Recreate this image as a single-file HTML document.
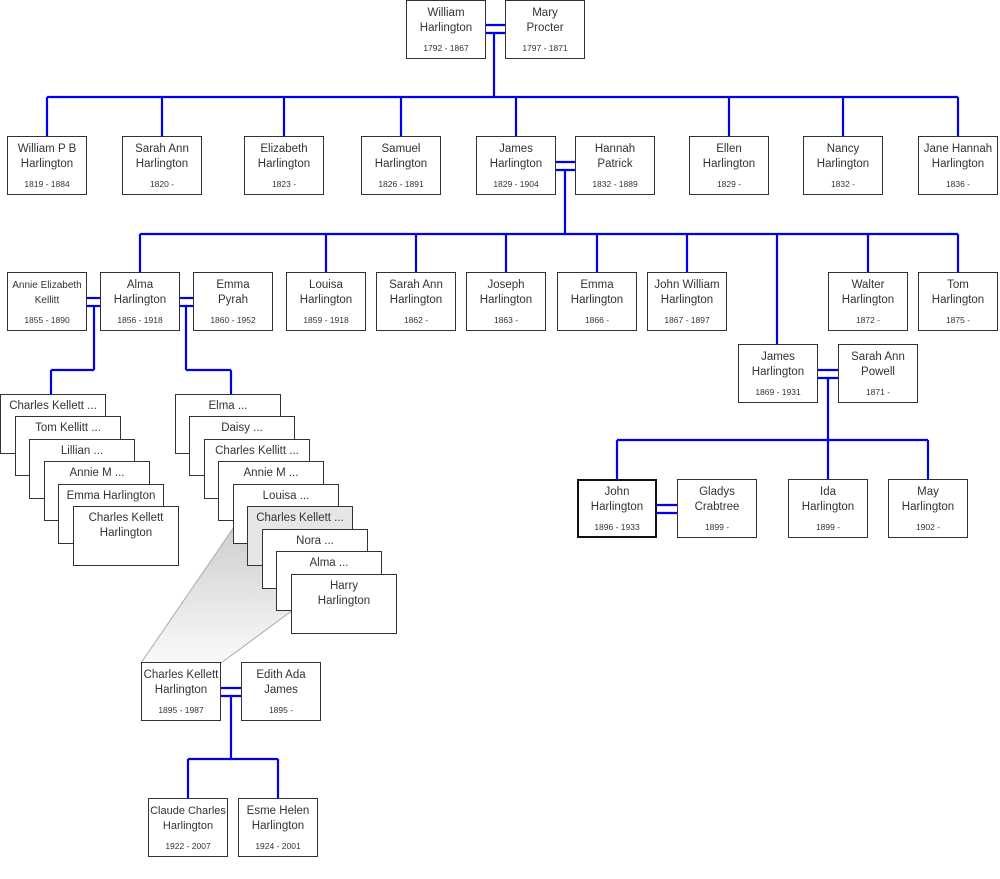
<!DOCTYPE html>
<html><head><meta charset="utf-8"><style>
body{margin:0;width:1000px;height:879px;position:relative;background:#fff;font-family:"Liberation Sans",sans-serif;color:#333;overflow:hidden}
.b{position:absolute;width:78px;height:57px;border:1px solid #333;background:#fff;text-align:center;font-size:11.5px;line-height:15px;box-sizing:content-box}
.b .n{padding-top:5px;height:34px}
.b .d{font-size:8.5px;line-height:12px;margin-top:2px}
.s{position:absolute;width:106px;border:1px solid #333;background:#fff;text-align:center;font-size:11.5px;line-height:15px;padding-top:4px;box-sizing:border-box;height:60px}
svg{position:absolute;left:0;top:0}
</style></head><body>
<svg width="1000" height="879">
<defs><linearGradient id="g" x1="0" y1="0" x2="0" y2="1"><stop offset="0" stop-color="#c8c8c8"/><stop offset="1" stop-color="#fafafa"/></linearGradient></defs>
<polygon points="247,508 354,565 221,663 141,663" fill="url(#g)" stroke="#aaa" stroke-width="1"/>
<g stroke="#0000ee" stroke-width="2.2" fill="none">
<line x1="485" y1="25" x2="505" y2="25"/><line x1="485" y1="33" x2="505" y2="33"/>
<line x1="494" y1="33" x2="494" y2="97"/>
<line x1="47" y1="97" x2="958" y2="97"/>
<line x1="47" y1="97" x2="47" y2="136"/><line x1="162" y1="97" x2="162" y2="136"/><line x1="284" y1="97" x2="284" y2="136"/><line x1="401" y1="97" x2="401" y2="136"/><line x1="516" y1="97" x2="516" y2="136"/><line x1="729" y1="97" x2="729" y2="136"/><line x1="843" y1="97" x2="843" y2="136"/><line x1="958" y1="97" x2="958" y2="136"/>
<line x1="556" y1="162" x2="575" y2="162"/><line x1="556" y1="170" x2="575" y2="170"/>
<line x1="565" y1="170" x2="565" y2="234"/>
<line x1="140" y1="234" x2="958" y2="234"/>
<line x1="140" y1="234" x2="140" y2="272"/><line x1="326" y1="234" x2="326" y2="272"/><line x1="416" y1="234" x2="416" y2="272"/><line x1="506" y1="234" x2="506" y2="272"/><line x1="597" y1="234" x2="597" y2="272"/><line x1="687" y1="234" x2="687" y2="272"/><line x1="777" y1="234" x2="777" y2="344"/><line x1="868" y1="234" x2="868" y2="272"/><line x1="958" y1="234" x2="958" y2="272"/>
<line x1="87" y1="298" x2="100" y2="298"/><line x1="87" y1="306" x2="100" y2="306"/>
<line x1="94" y1="306" x2="94" y2="370"/><line x1="51" y1="370" x2="94" y2="370"/><line x1="51" y1="370" x2="51" y2="394"/>
<line x1="180" y1="298" x2="193" y2="298"/><line x1="180" y1="306" x2="193" y2="306"/>
<line x1="186" y1="306" x2="186" y2="370"/><line x1="186" y1="370" x2="231" y2="370"/><line x1="231" y1="370" x2="231" y2="394"/>
<line x1="818" y1="370" x2="838" y2="370"/><line x1="818" y1="378" x2="838" y2="378"/>
<line x1="828" y1="378" x2="828" y2="479"/>
<line x1="617" y1="440" x2="928" y2="440"/>
<line x1="617" y1="440" x2="617" y2="479"/><line x1="928" y1="440" x2="928" y2="479"/>
<line x1="656" y1="505" x2="677" y2="505"/><line x1="656" y1="513" x2="677" y2="513"/>
<line x1="221" y1="688" x2="241" y2="688"/><line x1="221" y1="696" x2="241" y2="696"/>
<line x1="231" y1="696" x2="231" y2="759"/>
<line x1="188" y1="759" x2="278" y2="759"/>
<line x1="188" y1="759" x2="188" y2="798"/><line x1="278" y1="759" x2="278" y2="798"/>
</g></svg>

<div class="b" style="left:406px;top:0"><div class="n">William<br>Harlington</div><div class="d">1792 - 1867</div></div>
<div class="b" style="left:505px;top:0"><div class="n">Mary<br>Procter</div><div class="d">1797 - 1871</div></div>

<div class="b" style="left:7px;top:136px"><div class="n">William P B<br>Harlington</div><div class="d">1819 - 1884</div></div>
<div class="b" style="left:122px;top:136px"><div class="n">Sarah Ann<br>Harlington</div><div class="d">1820 -</div></div>
<div class="b" style="left:244px;top:136px"><div class="n">Elizabeth<br>Harlington</div><div class="d">1823 -</div></div>
<div class="b" style="left:361px;top:136px"><div class="n">Samuel<br>Harlington</div><div class="d">1826 - 1891</div></div>
<div class="b" style="left:476px;top:136px"><div class="n">James<br>Harlington</div><div class="d">1829 - 1904</div></div>
<div class="b" style="left:575px;top:136px"><div class="n">Hannah<br>Patrick</div><div class="d">1832 - 1889</div></div>
<div class="b" style="left:689px;top:136px"><div class="n">Ellen<br>Harlington</div><div class="d">1829 -</div></div>
<div class="b" style="left:803px;top:136px"><div class="n">Nancy<br>Harlington</div><div class="d">1832 -</div></div>
<div class="b" style="left:918px;top:136px"><div class="n">Jane Hannah<br>Harlington</div><div class="d">1836 -</div></div>

<div class="b" style="left:7px;top:272px;font-size:10px"><div class="n">Annie Elizabeth<br>Kellitt</div><div class="d">1855 - 1890</div></div>
<div class="b" style="left:100px;top:272px"><div class="n">Alma<br>Harlington</div><div class="d">1856 - 1918</div></div>
<div class="b" style="left:193px;top:272px"><div class="n">Emma<br>Pyrah</div><div class="d">1860 - 1952</div></div>
<div class="b" style="left:286px;top:272px"><div class="n">Louisa<br>Harlington</div><div class="d">1859 - 1918</div></div>
<div class="b" style="left:376px;top:272px"><div class="n">Sarah Ann<br>Harlington</div><div class="d">1862 -</div></div>
<div class="b" style="left:466px;top:272px"><div class="n">Joseph<br>Harlington</div><div class="d">1863 -</div></div>
<div class="b" style="left:557px;top:272px"><div class="n">Emma<br>Harlington</div><div class="d">1866 -</div></div>
<div class="b" style="left:647px;top:272px"><div class="n">John William<br>Harlington</div><div class="d">1867 - 1897</div></div>
<div class="b" style="left:828px;top:272px"><div class="n">Walter<br>Harlington</div><div class="d">1872 -</div></div>
<div class="b" style="left:918px;top:272px"><div class="n">Tom<br>Harlington</div><div class="d">1875 -</div></div>

<div class="b" style="left:738px;top:344px"><div class="n">James<br>Harlington</div><div class="d">1869 - 1931</div></div>
<div class="b" style="left:838px;top:344px"><div class="n">Sarah Ann<br>Powell</div><div class="d">1871 -</div></div>

<div class="b" style="left:577px;top:479px;border:2px solid #111;width:76px;height:55px"><div class="n" style="padding-top:4px">John<br>Harlington</div><div class="d">1896 - 1933</div></div>
<div class="b" style="left:677px;top:479px"><div class="n">Gladys<br>Crabtree</div><div class="d">1899 -</div></div>
<div class="b" style="left:788px;top:479px"><div class="n">Ida<br>Harlington</div><div class="d">1899 -</div></div>
<div class="b" style="left:888px;top:479px"><div class="n">May<br>Harlington</div><div class="d">1902 -</div></div>

<div class="s" style="left:0;top:394px">Charles Kellett ...</div>
<div class="s" style="left:15px;top:416px">Tom Kellitt ...</div>
<div class="s" style="left:29px;top:439px">Lillian ...</div>
<div class="s" style="left:44px;top:461px">Annie M ...</div>
<div class="s" style="left:58px;top:484px">Emma Harlington</div>
<div class="s" style="left:73px;top:506px">Charles Kellett<br>Harlington</div>

<div class="s" style="left:175px;top:394px">Elma ...</div>
<div class="s" style="left:189px;top:416px">Daisy ...</div>
<div class="s" style="left:204px;top:439px">Charles Kellitt ...</div>
<div class="s" style="left:218px;top:461px">Annie M ...</div>
<div class="s" style="left:233px;top:484px">Louisa ...</div>
<div class="s" style="left:247px;top:506px;background:#e6e6e6">Charles Kellett ...</div>
<div class="s" style="left:262px;top:529px">Nora ...</div>
<div class="s" style="left:276px;top:551px">Alma ...</div>
<div class="s" style="left:291px;top:574px">Harry<br>Harlington</div>

<div class="b" style="left:141px;top:662px"><div class="n">Charles Kellett<br>Harlington</div><div class="d">1895 - 1987</div></div>
<div class="b" style="left:241px;top:662px"><div class="n">Edith Ada<br>James</div><div class="d">1895 -</div></div>
<div class="b" style="left:148px;top:798px;font-size:11px"><div class="n">Claude Charles<br>Harlington</div><div class="d">1922 - 2007</div></div>
<div class="b" style="left:238px;top:798px"><div class="n">Esme Helen<br>Harlington</div><div class="d">1924 - 2001</div></div>
</body></html>
